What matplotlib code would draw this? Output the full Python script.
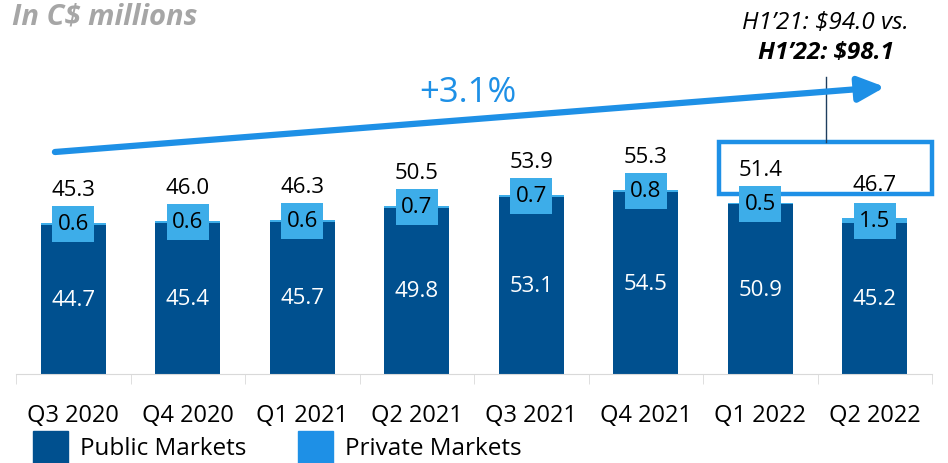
import matplotlib.pyplot as plt
import numpy as np
from matplotlib.patches import Rectangle

quarters = ["Q3 2020", "Q4 2020", "Q1 2021", "Q2 2021", "Q3 2021", "Q4 2021", "Q1 2022", "Q2 2022"]
public = [44.7, 45.4, 45.7, 49.8, 53.1, 54.5, 50.9, 45.2]
private = [0.6, 0.6, 0.6, 0.7, 0.7, 0.8, 0.5, 1.5]
totals = [45.3, 46.0, 46.3, 50.5, 53.9, 55.3, 51.4, 46.7]

dark = "#00508F"
light = "#3DADE9"
bright = "#1E90E6"

plt.rcParams['font.family'] = ['Open Sans', 'DejaVu Sans']

fig = plt.figure(figsize=(9.48, 4.64), dpi=100)
ax = fig.add_axes([16 / 948, 89 / 464, 916 / 948, 375 / 464])
x = np.arange(len(quarters))

ax.bar(x, public, width=0.57, color=dark)
ax.bar(x, private, width=0.57, bottom=public, color=light)

for i in range(len(x)):
    ax.text(x[i], public[i] / 2, f"{public[i]:.1f}", ha='center', va='center',
            color='white', fontsize=16)
    # light blue label box around the private segment
    ax.add_patch(Rectangle((x[i] - 0.185, public[i] + private[i] / 2 - 5.4), 0.37, 10.8,
                           facecolor=light, edgecolor='none', zorder=3))
    ax.text(x[i], public[i] + private[i] / 2, f"{private[i]:.1f}", ha='center', va='center',
            color='black', fontsize=16, zorder=4)
    ax.annotate(f"{totals[i]:.1f}", (x[i], totals[i]), xytext=(0, 24), textcoords='offset points',
                ha='center', va='center', fontsize=16, color='black')

ax.set_xlim(-0.5, len(x) - 0.5)
ax.set_ylim(0, 112.5)
for s in ['top', 'left', 'right']:
    ax.spines[s].set_visible(False)
ax.spines['bottom'].set_color('#D9D9D9')
ax.set_yticks([])
ax.set_xticks(x)
ax.set_xticklabels(quarters, fontsize=17)
ax.tick_params(axis='x', which='major', length=0, pad=21)
ax.set_xticks(np.arange(-0.5, len(x)), minor=True)
ax.tick_params(axis='x', which='minor', length=7, color='#D9D9D9')

# growth arrow
ax.annotate("", xy=(7.09, 86.1), xytext=(-0.16, 66.6),
            arrowprops=dict(arrowstyle='-|>,head_length=1.6,head_width=0.75', lw=4.5,
                            color=bright, shrinkA=0, shrinkB=0), annotation_clip=False)
ax.text(3.45, 84.5, "+3.1%", ha='center', va='center', fontsize=25, color=bright)

# H1 box and callout
ax.add_patch(Rectangle((5.64, 54.0), 1.86, 15.6, fill=False, edgecolor=bright, lw=3.2,
                       clip_on=False))
ax.plot([6.57, 6.57], [69.6, 89.1], color='#1F3F5F', lw=1, clip_on=False)
ax.text(6.57, 105.6, "H1’21: $94.0 vs.", ha='center', va='center', fontsize=17.5,
        style='italic', clip_on=False)
ax.text(6.57, 96.6, "H1’22: $98.1", ha='center', va='center', fontsize=17.5,
        style='italic', weight='bold', clip_on=False)

fig.text(12 / 948, 1 - 2 / 464, "In C$ millions", ha='left', va='top', fontsize=21,
         style='italic', weight='bold', color='#A6A6A6')

# legend
fig.patches.append(Rectangle((33 / 948, 0), 35 / 948, 32 / 464, color=dark,
                             transform=fig.transFigure, figure=fig))
fig.patches.append(Rectangle((298 / 948, 0), 35 / 948, 32 / 464, color=bright,
                             transform=fig.transFigure, figure=fig))
fig.text(80 / 948, 15 / 464, "Public Markets", va='center', fontsize=17.5)
fig.text(345 / 948, 15 / 464, "Private Markets", va='center', fontsize=17.5)

fig.savefig("out.png", dpi=100)
